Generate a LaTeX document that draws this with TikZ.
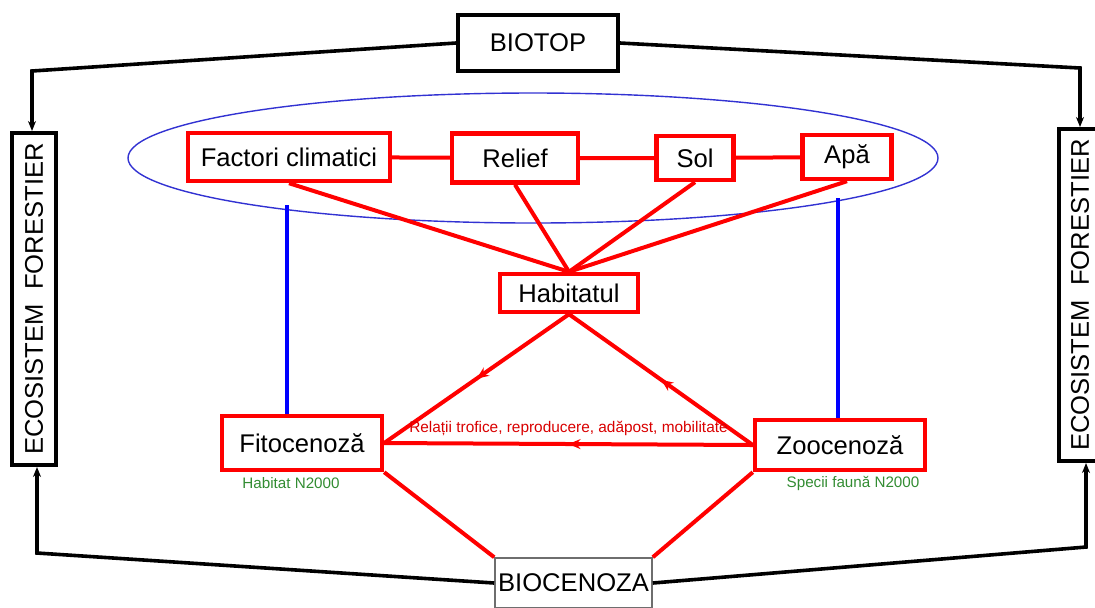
\documentclass[tikz,border=0pt]{standalone}
\usepackage{fontspec}
\setmainfont{Liberation Sans}
\usetikzlibrary{arrows.meta,decorations.markings}
\definecolor{boxred}{RGB}{255,0,0}
\definecolor{lineblue}{RGB}{0,0,255}
\definecolor{ellblue}{RGB}{50,50,210}
\definecolor{labgreen}{RGB}{50,140,50}
\definecolor{boxgray}{RGB}{110,110,110}

\begin{document}
\begin{tikzpicture}[x=0.5pt, y=-0.5pt,
    redbox/.style={draw=boxred, fill=white, line width=2.2pt, inner sep=0pt, font=\fontsize{12.8}{14}\selectfont},
    blackbox/.style={draw=black, fill=white, line width=2pt, inner sep=0pt, font=\fontsize{12.8}{14}\selectfont},
    redline/.style={draw=boxred, line width=2pt},
    blackline/.style={draw=black, line width=1.8pt},
    blueline/.style={draw=lineblue, line width=1.8pt},
    tipend/.style={-{Stealth[length=5pt,width=4pt]}},
    midarrow/.style={postaction={decorate}, decoration={markings, mark=at position 0.5 with {\arrow{Stealth[length=6pt,width=5pt]}}}},
    greenlabel/.style={text=labgreen, font=\fontsize{7.6}{9}\selectfont}
]
    \useasboundingbox (0,0) rectangle (1095,607);

    % Habitat factors
    \draw[ellblue, line width=0.7pt] (533,158) ellipse [x radius=405, y radius=65];

    % Outer boxes
    \node[blackbox, minimum width=80pt, minimum height=28pt] (biotop) at (538,43) {BIOTOP};
    \node[blackbox, rotate=90, minimum width=166pt, minimum height=22pt] (ecoL) at (34,299) {ECOSISTEM~~FORESTIER};
    \node[blackbox, rotate=90, minimum width=166pt, minimum height=21pt] (ecoR) at (1080,295) {ECOSISTEM~~FORESTIER};
    \node[blackbox, draw=boxgray, line width=0.8pt, minimum width=78.5pt, minimum height=25pt] (biocenoza) at (573.5,583) {BIOCENOZA};

    % Factors
    \node[redbox, minimum width=101pt, minimum height=24pt] (climat) at (289,157) {Factori climatici};
    \node[redbox, minimum width=63pt, minimum height=24.5pt] (relief) at (515,158) {Relief};
    \node[redbox, minimum width=38.5pt, minimum height=22pt] (sol) at (695,158) {Sol};
    \node[redbox, minimum width=44.5pt, minimum height=22pt] (apa) at (847,157) {Apă};

    % Habitat and communities
    \node[redbox, minimum width=69pt, minimum height=19pt] (habitat) at (569,293) {Habitatul};
    \node[redbox, minimum width=80pt, minimum height=27pt] (fito) at (302,443) {Fitocenoză};
    \node[redbox, minimum width=85pt, minimum height=25pt] (zoo) at (840,445) {Zoocenoză};
    \node[greenlabel] (n2000f) at (291,483) {Habitat N2000};
    \node[greenlabel] (n2000z) at (853,483) {Specii faună N2000};

    % Black frame
    \coordinate (cTL) at (32,71);
    \coordinate (cTR) at (1080,68);
    \coordinate (cBL) at (37,553);
    \coordinate (cBR) at (1086,547);
    \draw[blackline, tipend] (biotop.west) -- (cTL) -- (cTL |- ecoL.east);
    \draw[blackline, tipend] (biotop.east) -- (cTR) -- (cTR |- ecoR.east);
    \draw[blackline, tipend] (biocenoza.west) -- (cBL) -- (cBL |- ecoL.west);
    \draw[blackline, tipend] (biocenoza.east) -- (cBR) -- (cBR |- ecoR.west);

    % Red links
    \draw[redline] (climat) -- (relief) -- (sol) -- (apa);
    \foreach \n in {climat,relief,sol,apa}
        \draw[redline] (\n.south) -- (habitat.north);
    \draw[redline, midarrow] (habitat.south) -- (fito.east);
    \draw[redline, midarrow] (zoo.west) -- (habitat.south);
    \draw[redline, midarrow] (zoo.west) -- node[above, text=boxred!85!black, font=\fontsize{7.7}{9}\selectfont] (rel) {Relații trofice, reproducere, adăpost, mobilitate} (fito.east);
    \draw[redline] (fito.south east) -- (biocenoza.north west);
    \draw[redline] (zoo.south west) -- (biocenoza.north east);

    % Blue links
    \coordinate (bL) at (287,205);
    \coordinate (bR) at (838,198);
    \draw[blueline] (bL) -- (bL |- fito.north);
    \draw[blueline] (bR) -- (bR |- zoo.north);
\end{tikzpicture}
\end{document}
